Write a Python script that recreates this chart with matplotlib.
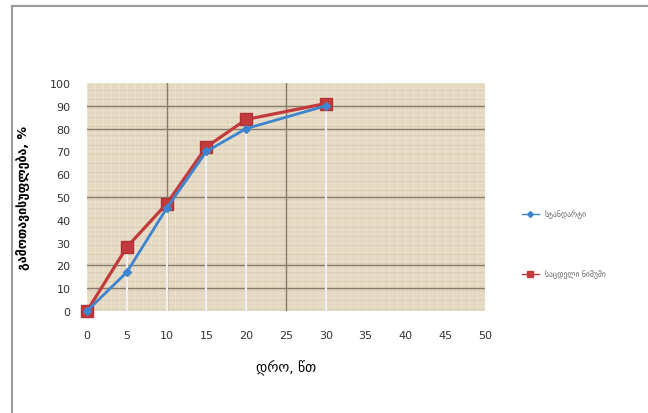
import matplotlib
matplotlib.use("Agg")
import matplotlib.pyplot as plt
from matplotlib.lines import Line2D

# data
time_min = [0, 5, 10, 15, 20, 30]
series_a = [0, 17, 45, 70, 80, 90]
series_b = [0, 28, 47, 72, 84, 91]
label_a = "სტანდარტი"
label_b = "საცდელი ნიმუში"
x_ticks = list(range(0, 51, 5))
y_ticks = list(range(0, 101, 10))
x_title = "დრო, წთ"
y_title = "გამოთავისუფლება, %"

plt.rcParams['font.family'] = ['DejaVu Sans']

fig = plt.figure(figsize=(6.48, 4.14), dpi=100)
fig.patch.set_facecolor("white")

# frame lines around the chart (top and left)
fig.add_artist(Line2D([12/648, 12/648], [0, 1 - 7/414], color="#9a9a9a", lw=1.5))
fig.add_artist(Line2D([12/648, 1], [1 - 7/414, 1 - 7/414], color="#9a9a9a", lw=1.5))

ax = fig.add_axes([87/648, 102/414, 398/648, 228/414])
ax.set_facecolor("#e4d8c1")

# fine texture-like grid
for v in range(0, 51):
    ax.axvline(v, color="#ede5d5", lw=0.5, zorder=0)
for v in range(0, 101, 2):
    ax.axhline(v, color="#ede5d5", lw=0.4, zorder=0)
for v in range(1, 101, 4):
    ax.axhline(v, color="#d8cab2", lw=0.4, zorder=0)
# darker lines in the background
for v in [10, 25]:
    ax.axvline(v, color="#857a6b", lw=1.0, zorder=1)
for v in [10, 20, 50, 80, 90]:
    ax.axhline(v, color="#857a6b", lw=1.0, zorder=1)

# drop lines from the points
for xv, yv in zip(time_min, series_b):
    ax.plot([xv, xv], [0, yv], color="#eef0f6", lw=1.5, zorder=2)

ax.plot(time_min, series_a, color="#3d85d0", lw=2, marker="D", ms=4,
        mfc="#3d85d0", mec="#3d85d0", label=label_a, zorder=4, clip_on=False)
ax.plot(time_min, series_b, color="#c33a3c", lw=2.3, marker="s", ms=8,
        mfc="#c33a3c", mec="#b03035", label=label_b, zorder=3, clip_on=False)

ax.set_xlim(0, 50)
ax.set_ylim(0, 100)
ax.set_xticks(x_ticks)
ax.set_yticks(y_ticks)
for s in ax.spines.values():
    s.set_visible(False)
ax.tick_params(axis="both", length=0, labelsize=8, colors="#333333")
ax.tick_params(axis="x", pad=14)
ax.tick_params(axis="y", pad=12)

ax.set_xlabel(x_title, fontsize=10, labelpad=14)
ax.set_ylabel(y_title, fontsize=9, labelpad=14, fontweight="bold")

# legend entries at right, widely spaced
h_a = Line2D([], [], color="#3d85d0", lw=1, marker="D", ms=3)
h_b = Line2D([], [], color="#c33a3c", lw=1, marker="s", ms=5)
fig.legend([h_a], [label_a], loc="center left", bbox_to_anchor=(515/648, 1 - 215/414),
           frameon=False, fontsize=5.5, handlelength=2.2, labelcolor="#666666")
fig.legend([h_b], [label_b], loc="center left", bbox_to_anchor=(515/648, 1 - 275/414),
           frameon=False, fontsize=5.5, handlelength=2.2, labelcolor="#666666")

fig.savefig("out.png", dpi=100)
